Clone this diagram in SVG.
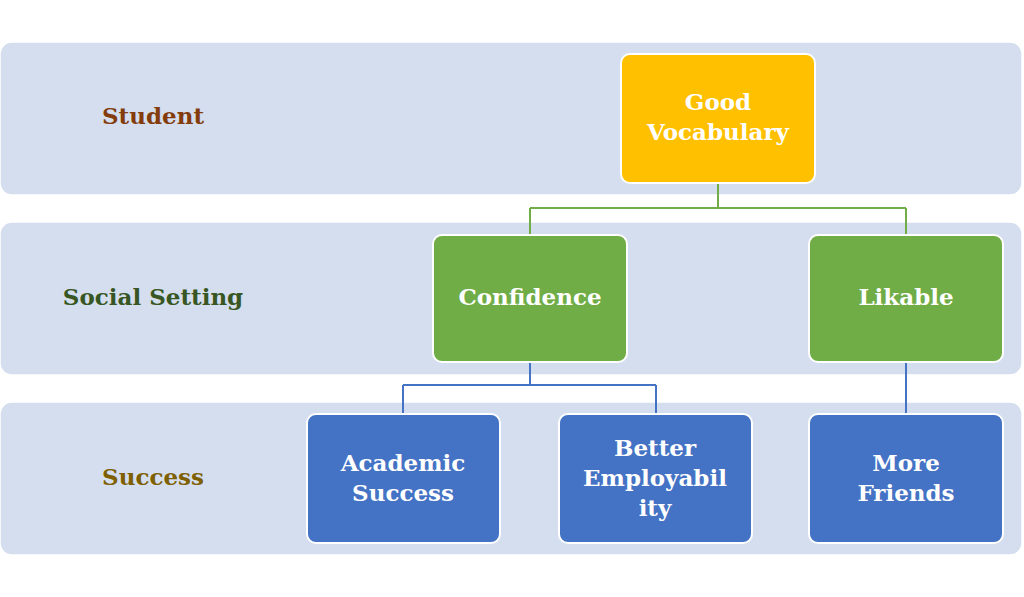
<svg xmlns="http://www.w3.org/2000/svg" width="1024" height="597" viewBox="0 0 1024 597">
<style>
.band{fill:#d4deee;stroke:#fff;stroke-width:1.5}
.node{stroke:#fff;stroke-width:2}
.nt{font-family:"DejaVu Serif","Liberation Serif",serif;font-weight:bold;font-size:23px;fill:#fff;text-anchor:middle}
.lt{font-family:"DejaVu Serif","Liberation Serif",serif;font-weight:bold;font-size:23px;text-anchor:middle}
</style>
<rect width="1024" height="597" fill="#fff"/>
<g id="bands">
<rect class="band" x="0" y="42" width="1022" height="153" rx="12"/>
<rect class="band" x="0" y="222" width="1022" height="153" rx="12"/>
<rect class="band" x="0" y="402" width="1022" height="153" rx="12"/>
<text class="lt" x="153" y="124" fill="#843c0c">Student</text>
<text class="lt" x="153" y="305" fill="#375623">Social Setting</text>
<text class="lt" x="153" y="485" fill="#7f6000">Success</text>
</g>
<g id="connectors" fill="none" stroke-width="2">
<path d="M718 183V208M530 208H906M530 208V235M906 208V235" stroke="#70ad47"/>
<path d="M530 362V385M403 385H656M403 385V414M656 385V414M906 362V414" stroke="#4472c4"/>
</g>
<g id="n1"><rect class="node" x="621" y="54" width="194" height="129" rx="9" fill="#ffc000"/>
<text class="nt" x="718" y="110">Good</text><text class="nt" x="718" y="140">Vocabulary</text></g>
<g id="n2"><rect class="node" x="433" y="235" width="194" height="127" rx="9" fill="#70ad47"/>
<text class="nt" x="530" y="305">Confidence</text></g>
<g id="n3"><rect class="node" x="809" y="235" width="194" height="127" rx="9" fill="#70ad47"/>
<text class="nt" x="906" y="305">Likable</text></g>
<g id="n4"><rect class="node" x="307" y="414" width="193" height="129" rx="9" fill="#4472c4"/>
<text class="nt" x="403" y="471">Academic</text><text class="nt" x="403" y="501">Success</text></g>
<g id="n5"><rect class="node" x="559" y="414" width="193" height="129" rx="9" fill="#4472c4"/>
<text class="nt" x="655" y="456">Better</text><text class="nt" x="655" y="486">Employabil</text><text class="nt" x="655" y="516">ity</text></g>
<g id="n6"><rect class="node" x="809" y="414" width="194" height="129" rx="9" fill="#4472c4"/>
<text class="nt" x="906" y="471">More</text><text class="nt" x="906" y="501">Friends</text></g>
</svg>
